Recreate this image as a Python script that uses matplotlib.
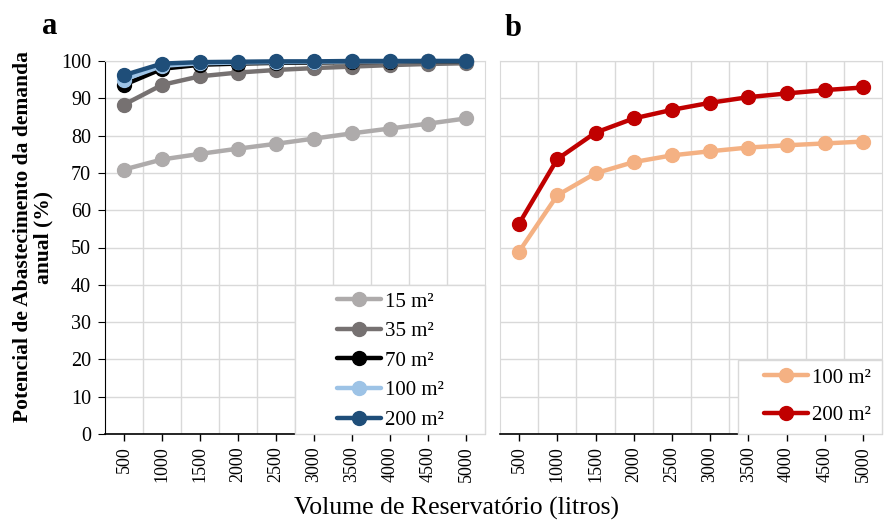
import matplotlib
matplotlib.use("Agg")
import matplotlib.pyplot as plt
from matplotlib.patches import Rectangle
import numpy as np

volumes = ["500", "1000", "1500", "2000", "2500", "3000", "3500", "4000", "4500", "5000"]

a_15 = [70.9, 73.6, 75.1, 76.5, 77.8, 79.2, 80.6, 81.9, 83.2, 84.6]
a_35 = [88.3, 93.6, 95.9, 96.9, 97.6, 98.1, 98.5, 98.9, 99.2, 99.4]
a_70 = [93.6, 97.9, 99.0, 99.3, 99.5, 99.6, 99.7, 99.8, 99.9, 99.9]
a_100 = [95.0, 98.7, 99.4, 99.6, 99.7, 99.8, 99.9, 99.9, 100.0, 100.0]
a_200 = [96.2, 99.3, 99.7, 99.8, 99.9, 99.9, 100.0, 100.0, 100.0, 100.0]

b_100 = [48.9, 64.0, 69.9, 72.9, 74.7, 75.8, 76.8, 77.4, 77.9, 78.4]
b_200 = [56.4, 73.7, 80.8, 84.6, 86.9, 88.8, 90.3, 91.3, 92.2, 92.9]

series_a = [("15 m²", a_15, "#AEABAB"), ("35 m²", a_35, "#767171"),
            ("70 m²", a_70, "#000000"), ("100 m²", a_100, "#9DC3E6"),
            ("200 m²", a_200, "#1F4E79")]
series_b = [("100 m²", b_100, "#F4B183"), ("200 m²", b_200, "#C00000")]

plt.rcParams['font.family'] = ['Liberation Serif', 'DejaVu Serif']

fig = plt.figure(figsize=(8.88, 5.21), dpi=100)
W, H = 888, 521
def ax_rect(x0, x1, ytop, ybot):
    return [x0 / W, 1 - ybot / H, (x1 - x0) / W, (ybot - ytop) / H]

def fig_xy(px, py):
    return (px / W, 1 - py / H)

axA = fig.add_axes(ax_rect(105, 485, 61, 434))
axB = fig.add_axes(ax_rect(500, 882, 61, 434))

x = np.arange(len(volumes))
grid_c = "#D9D9D9"

for ax, series, show_y in [(axA, series_a, True), (axB, series_b, False)]:
    for lab, vals, col in series:
        ax.plot(x, vals, color=col, lw=3.2, marker="o", ms=10, label=lab,
                solid_capstyle="round", zorder=3, clip_on=False)
    ax.set_xlim(-0.5, len(volumes) - 0.5)
    ax.set_ylim(0, 100)
    ax.set_yticks(np.arange(0, 101, 10))
    ax.set_xticks(x)
    ax.set_xticklabels(volumes, rotation=90, fontsize=13)
    ax.set_xticks(np.arange(0.5, len(volumes) - 1, 1), minor=True)
    ax.grid(True, axis="y", which="major", color=grid_c, lw=1, zorder=0)
    ax.grid(True, axis="x", which="minor", color=grid_c, lw=1, zorder=0)
    ax.set_axisbelow(True)
    ax.tick_params(axis="x", which="minor", length=0)
    ax.tick_params(axis="x", which="major", direction="out", length=5, width=1, pad=4)
    ax.spines["top"].set_color(grid_c)
    ax.spines["right"].set_color(grid_c)
    ax.spines["bottom"].set_color("black")
    ax.spines["bottom"].set_linewidth(1.2)
    if show_y:
        ax.tick_params(axis="y", direction="out", length=5, labelsize=14.5, pad=5)
        ax.spines["left"].set_color("black")
    else:
        ax.tick_params(axis="y", length=0, labelleft=False)
        ax.spines["left"].set_color(grid_c)

# legend frames (inside each axes, above lines, below legend)
for ax, (x0, y0, x1, y1) in [(axA, (295, 285, 485, 434)), (axB, (738, 360, 882, 434))]:
    ax.add_patch(Rectangle(fig_xy(x0, y1), (x1 - x0) / W, (y1 - y0) / H,
                           transform=fig.transFigure, facecolor="white",
                           edgecolor=grid_c, lw=1, zorder=4, clip_on=False))

legA = axA.legend(loc="upper left", bbox_to_anchor=fig_xy(337, 292),
                  bbox_transform=fig.transFigure, fontsize=15, frameon=False,
                  handlelength=2.1, borderaxespad=0, borderpad=0,
                  labelspacing=0.48, handletextpad=0.2)
legA.set_zorder(6)
legB = axB.legend(loc="upper left", bbox_to_anchor=fig_xy(764, 368),
                  bbox_transform=fig.transFigure, fontsize=15, frameon=False,
                  handlelength=2.1, borderaxespad=0, borderpad=0,
                  labelspacing=0.85, handletextpad=0.2)
legB.set_zorder(6)

fig.text(42 / W, 1 - 27 / H, "a", fontsize=22, fontweight="bold", ha="left", va="center")
fig.text(505 / W, 1 - 29 / H, "b", fontsize=22, fontweight="bold", ha="left", va="center")

fig.text(33 / W, 1 - 237 / H, "Potencial de Abastecimento da demanda\nanual (%)",
         rotation=90, fontsize=15.5, fontweight="bold", ha="center", va="center",
         linespacing=1.05, multialignment="center")
fig.text(456 / W, 1 - 508 / H, "Volume de Reservatório (litros)", fontsize=18.5,
         ha="center", va="center")

fig.savefig("out.png", dpi=100)
